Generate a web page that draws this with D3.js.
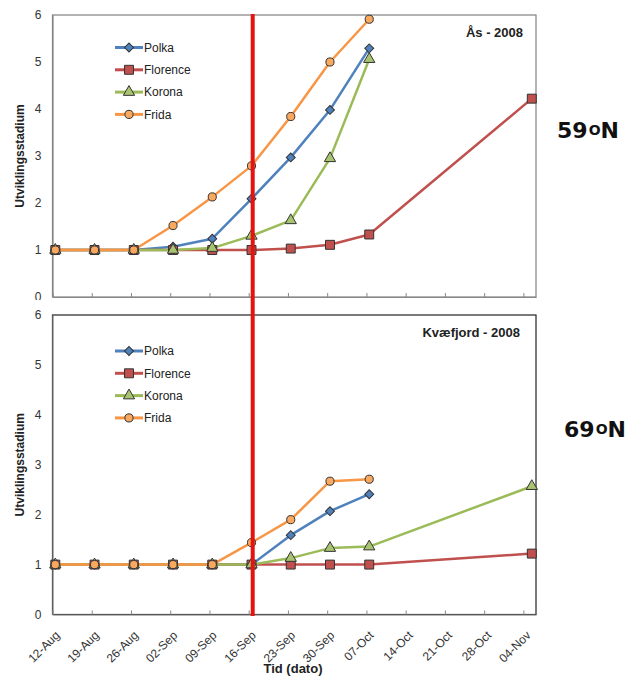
<!DOCTYPE html>
<html>
<head>
<meta charset="utf-8">
<script src="https://cdn.jsdelivr.net/npm/d3@7"></script>
<style>
  body { margin: 0; background: #fff; }
  svg { display: block; font-family: "Liberation Sans", Arial, sans-serif; }
</style>
</head>
<body>
<div id="chart"></div>
<script>
// sampling dates (the last one is the late-autumn reading)
const dates = ['2008-08-12','2008-08-19','2008-08-26','2008-09-02','2008-09-09',
               '2008-09-16','2008-09-23','2008-09-30','2008-10-07','2008-11-05'];
const xTicks = ['2008-08-12','2008-08-19','2008-08-26','2008-09-02','2008-09-09','2008-09-16',
                '2008-09-23','2008-09-30','2008-10-07','2008-10-14','2008-10-21','2008-10-28','2008-11-04'];
const yTicks = [0, 1, 2, 3, 4, 5, 6];
const varieties = ['Polka', 'Florence', 'Korona', 'Frida'];

// Ås - 2008
const asPolka    = [1, 1, 1, 1.07, 1.24, 2.09, 2.97, 3.98, 5.29, null];
const asFlorence = [1, 1, 1, 1, 1, 1, 1.03, 1.11, 1.33, 4.22];
const asKorona   = [1, 1, 1, 1, 1.04, 1.30, 1.63, 2.95, 5.06, null];
const asFrida    = [1, 1, 1, 1.52, 2.13, 2.79, 3.84, 5.00, 5.91, null];

// Kvæfjord - 2008
const kvPolka    = [1, 1, 1, 1, 1, 1, 1.59, 2.07, 2.41, null];
const kvFlorence = [1, 1, 1, 1, 1, 1, 1, 1, 1, 1.22];
const kvKorona   = [1, 1, 1, 1, 1, 1, 1.13, 1.33, 1.36, 2.57];
const kvFrida    = [1, 1, 1, 1, 1, 1.44, 1.90, 2.67, 2.71, null];

const markerDate = '2008-09-16';

const parse = d3.timeParse('%Y-%m-%d');
const fmt = d3.timeFormat('%d-%b');

const colors = { Polka: '#4F81BD', Florence: '#C0504D', Korona: '#9BBB59', Frida: '#F79646' };
const fills  = { Polka: '#4F81BD', Florence: '#C0504D', Korona: '#A9C470', Frida: '#F9A860' };
const shapes = { Polka: d3.symbolSquare, Florence: d3.symbolSquare, Korona: d3.symbolTriangle, Frida: d3.symbolCircle };
const sizes  = { Polka: 40, Florence: 80, Korona: 55, Frida: 52 };
const turns  = { Polka: 45, Florence: 0, Korona: 0, Frida: 0 };

const width = 633, height = 677;
const left = 52.5, right = 536;

const svg = d3.select('#chart').append('svg')
  .attr('width', width)
  .attr('height', height);

const xScale = d3.scaleTime()
  .domain([parse('2008-08-12'), d3.timeHour.offset(parse('2008-11-06'), 6)])
  .range([left, right]);
const px = d => xScale(d3.timeHour.offset(parse(d), 12));

function panel(cfg) {
  const g = svg.append('g');
  const yScale = d3.scaleLinear().domain([0, 6]).range([cfg.bottom, cfg.top]);

  g.append('rect')
    .attr('x', left).attr('y', cfg.top)
    .attr('width', right - left).attr('height', cfg.bottom - cfg.top)
    .attr('fill', '#fff')
    .attr('stroke', cfg.frame).attr('stroke-width', 1.2);

  const yAxis = g.append('g')
    .attr('transform', `translate(${left},0)`)
    .call(d3.axisLeft(yScale).tickValues(yTicks).tickFormat(d3.format('d')).tickSize(0).tickPadding(11));
  yAxis.select('.domain').attr('stroke', '#888').attr('stroke-width', 1.2);
  yAxis.selectAll('text').attr('font-size', 12).attr('fill', '#333');

  const xAxis = g.append('g')
    .attr('transform', `translate(0,${cfg.bottom})`)
    .call(d3.axisBottom(xScale).tickValues(xTicks.map(parse)).tickSizeInner(-4).tickSizeOuter(0).tickFormat(''));
  xAxis.select('.domain').attr('stroke', '#888').attr('stroke-width', 1.2);
  xAxis.selectAll('.tick line').attr('stroke', '#888');

  g.append('text')
    .attr('transform', `translate(24,${(cfg.top + cfg.bottom) / 2}) rotate(-90)`)
    .attr('text-anchor', 'middle')
    .attr('font-size', 12).attr('font-weight', 'bold').attr('fill', '#222')
    .text('Utviklingsstadium');

  g.append('text')
    .attr('x', cfg.titleX).attr('y', cfg.top + 22)
    .attr('text-anchor', 'end')
    .attr('font-size', 13).attr('font-weight', 'bold').attr('fill', '#222')
    .text(cfg.title);

  const line = d3.line()
    .defined(d => d.v != null)
    .x(d => px(d.date))
    .y(d => yScale(d.v));

  varieties.forEach(name => {
    const pts = dates.map((date, i) => ({ date, v: cfg.series[name][i] }));
    g.append('path')
      .datum(pts)
      .attr('fill', 'none')
      .attr('stroke', colors[name])
      .attr('stroke-width', 2.5)
      .attr('stroke-linejoin', 'round')
      .attr('d', line);
  });
  // markers on top of all lines, in series order
  varieties.forEach(name => {
    const pts = dates.map((date, i) => ({ date, v: cfg.series[name][i] })).filter(d => d.v != null);
    g.selectAll(null)
      .data(pts)
      .enter()
      .append('path')
      .attr('transform', d => `translate(${px(d.date)},${yScale(d.v)}) rotate(${turns[name]})`)
      .attr('d', d3.symbol(shapes[name], sizes[name]))
      .attr('fill', fills[name])
      .attr('stroke', '#333')
      .attr('stroke-width', 1);
  });

  // legend
  varieties.forEach((name, i) => {
    const ly = cfg.legendY + i * 22.3;
    g.append('line')
      .attr('x1', 115).attr('x2', 143).attr('y1', ly).attr('y2', ly)
      .attr('stroke', colors[name]).attr('stroke-width', 3);
    g.append('path')
      .attr('transform', `translate(129,${ly}) rotate(${turns[name]})`)
      .attr('d', d3.symbol(shapes[name], sizes[name]))
      .attr('fill', fills[name]).attr('stroke', '#333').attr('stroke-width', 1);
    g.append('text')
      .attr('x', 144).attr('y', ly).attr('dy', '0.35em')
      .attr('font-size', 12).attr('fill', '#222')
      .text(name);
  });

  // latitude label
  const lat = svg.append('text')
    .attr('x', cfg.latX).attr('y', cfg.latY)
    .attr('font-family', '"DejaVu Sans", sans-serif')
    .attr('font-size', 22).attr('font-weight', 'bold').attr('fill', '#111');
  lat.append('tspan').text(cfg.lat);
  lat.append('tspan').attr('font-size', 14).attr('dy', -3).attr('dx', 1).text('O');
  lat.append('tspan').attr('dy', 3).text('N');

  return { g, yScale, xAxis };
}

panel({
  top: 15, bottom: 297, frame: '#808080',
  title: 'Ås - 2008', titleX: 523,
  series: { Polka: asPolka, Florence: asFlorence, Korona: asKorona, Frida: asFrida },
  legendY: 47.5, lat: '59', latX: 557, latY: 138
});

// the lower chart overlaps the bottom of the upper one
svg.append('rect')
  .attr('x', 0).attr('y', 300).attr('width', width).attr('height', height - 300)
  .attr('fill', '#fff');

const low = panel({
  top: 315, bottom: 614.5, frame: '#222',
  title: 'Kvæfjord - 2008', titleX: 520,
  series: { Polka: kvPolka, Florence: kvFlorence, Korona: kvKorona, Frida: kvFrida },
  legendY: 351, lat: '69', latX: 564, latY: 437
});

// rotated date labels under the lower chart
low.g.selectAll('.dlabel')
  .data(xTicks)
  .enter()
  .append('text')
  .attr('class', 'dlabel')
  .attr('transform', d => `translate(${xScale(parse(d)) + 8},636) rotate(-45)`)
  .attr('text-anchor', 'end')
  .attr('font-size', 12).attr('fill', '#333')
  .text(d => fmt(parse(d)));

low.g.append('text')
  .attr('x', 293).attr('y', 673)
  .attr('text-anchor', 'middle')
  .attr('font-size', 13).attr('font-weight', 'bold').attr('fill', '#222')
  .text('Tid (dato)');

// red vertical marker across both charts
svg.append('line')
  .attr('x1', xScale(parse(markerDate)) + 4).attr('x2', xScale(parse(markerDate)) + 4)
  .attr('y1', 14).attr('y2', 616)
  .attr('stroke', '#E3140F').attr('stroke-width', 4);
</script>
</body>
</html>
